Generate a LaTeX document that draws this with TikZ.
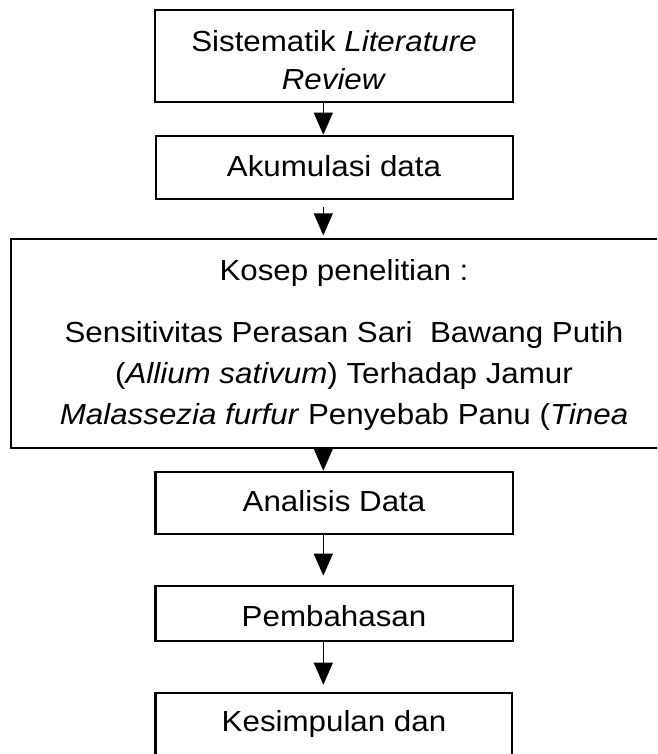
\documentclass[tikz,border=0pt]{standalone}
\usepackage{fontspec}
\setmainfont{Liberation Sans}[FakeStretch=1.08]
\usetikzlibrary{arrows.meta}

\begin{document}
\begin{tikzpicture}[x=1pt,y=1pt,
     block/.style = {draw, rectangle, line width=2.6pt, inner sep=0pt},
     txt/.style = {anchor=base, inner sep=0pt, align=center, font=\fontsize{29}{37.6}\selectfont},
     wide/.style = {txt, font=\fontsize{29}{41}\selectfont},
     arrow/.style = {draw, line width=1.2pt, -{Triangle[width=19pt,length=22pt]}}
    ]
    \useasboundingbox (0,0) rectangle (657,-754);
    \clip (0,0) rectangle (657,-754);
    \coordinate (ax) at (323.3,0);

    \node [block, minimum width=358pt, minimum height=92pt] (slr) at (334,-56) {};
    \node [block, minimum width=357pt, minimum height=63pt] (akum) at (334.5,-167.5) {};
    \node [block, minimum width=666pt, minimum height=209pt] (konsep) at (344,-343.5) {};
    \node [block, minimum width=357.5pt, minimum height=62pt] (analisis) at (334.25,-503) {};
    \node [block, minimum width=357.5pt, minimum height=55pt] (bahas) at (334.25,-613.5) {};
    \node [block, minimum width=356.5pt, minimum height=80pt] (simpul) at (333.75,-733) {};

    % multi-line texts sit on their last line
    \node [txt] (slrtext) at (334,-89.3) {Sistematik \textit{Literature}\\\textit{Review}};
    \node [txt] (akumtext) at (334,-177) {Akumulasi data};
    \node [txt] (konseptitle) at (344,-280) {Kosep penelitian :};
    \node [wide] (konseptext) at (344,-424) {Sensitivitas Perasan Sari~ Bawang Putih\\
      (\textit{Allium sativum}) Terhadap Jamur\\
      \textit{Malassezia furfur} Penyebab Panu (\textit{Tinea}};
    \node [txt] (analisistext) at (334,-511.7) {Analisis Data};
    \node [txt] (bahastext) at (334,-626.7) {Pembahasan};
    \node [txt] (simpultext) at (334,-731.7) {Kesimpulan dan};

    \draw [arrow] (slr.south -| ax) -- (akum.north -| ax);
    \draw [arrow] ([yshift=-6.7pt]akum.south -| ax) -- ([yshift=2.3pt]konsep.north -| ax);
    \draw [arrow] (konsep.south -| ax) -- (analisis.north -| ax);
    \draw [arrow] (analisis.south -| ax) -- ([yshift=9pt]bahas.north -| ax);
    \draw [arrow] (bahas.south -| ax) -- ([yshift=7pt]simpul.north -| ax);

\end{tikzpicture}
\end{document}
